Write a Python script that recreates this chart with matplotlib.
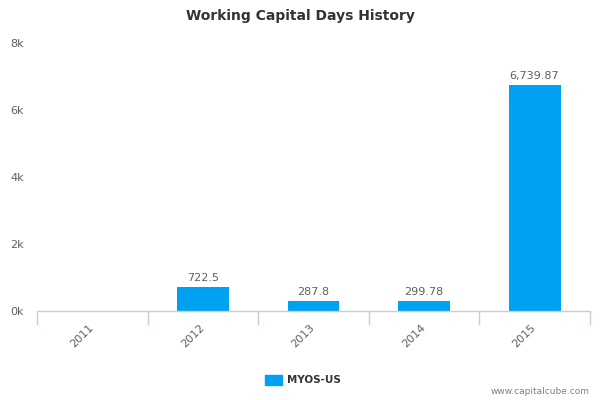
import matplotlib
matplotlib.use("Agg")
import matplotlib.pyplot as plt
import matplotlib.transforms as mtransforms
import numpy as np
from matplotlib.ticker import FuncFormatter, FixedLocator
from matplotlib.patches import Patch

years = ["2011", "2012", "2013", "2014", "2015"]
values = [np.nan, 722.5, 287.8, 299.78, 6739.87]
labels = ["", "722.5", "287.8", "299.78", "6,739.87"]
series_name = "MYOS-US"
yticks = [0, 2000, 4000, 6000, 8000]

bar_color = "#00a1f1"
axis_color = "#c0d0e0"
text_gray = "#606060"

fig = plt.figure(figsize=(6, 4), dpi=100)
ax = fig.add_axes([0.062, 0.2225, 0.921, 0.67])

x = np.arange(len(years))
vals = np.array(values, dtype=float)
bars = ax.bar(x, np.nan_to_num(vals), width=0.47, color=bar_color, zorder=2)
for xi, v, lab in zip(x, vals, labels):
    if not np.isnan(v) and lab:
        ax.annotate(lab, (xi, v), xytext=(0, 3), textcoords="offset points",
                    ha="center", va="bottom", fontsize=8, color=text_gray)

ax.set_xlim(-0.5, len(years) - 0.5)
ax.set_ylim(0, 8000)
ax.set_yticks(yticks)
ax.yaxis.set_major_formatter(FuncFormatter(lambda v, p: f"{int(v/1000)}k"))
ax.tick_params(axis="y", length=0, labelsize=8, labelcolor=text_gray, pad=19.5)
for t in ax.get_yticklabels():
    t.set_horizontalalignment("left")

ax.set_xticks(x)
ax.set_xticklabels(years, rotation=45, ha="right", rotation_mode="anchor",
                   fontsize=8, color=text_gray)
ax.tick_params(axis="x", length=0, pad=8)
offset = mtransforms.ScaledTranslation(-4 / 100, 0, fig.dpi_scale_trans)
for t in ax.get_xticklabels():
    t.set_transform(t.get_transform() + offset)
ax.xaxis.set_minor_locator(FixedLocator(np.arange(-0.5, len(years), 1.0)))
ax.tick_params(axis="x", which="minor", length=10, color=axis_color, width=1)

for s in ["top", "right", "left"]:
    ax.spines[s].set_visible(False)
ax.spines["bottom"].set_color(axis_color)
ax.spines["bottom"].set_linewidth(1)

fig.text(0.5, 0.96, "Working Capital Days History", ha="center", va="center",
         fontsize=10, fontweight="bold", color="#333333")

leg = fig.legend(handles=[Patch(color=bar_color, label=series_name)],
                 loc="center", bbox_to_anchor=(0.505, 0.05), frameon=False,
                 handlelength=1.6, handleheight=1.1, handletextpad=0.5,
                 prop={"size": 7.5, "weight": "bold"})
for t in leg.get_texts():
    t.set_color("#333333")

fig.text(0.983, 0.02, "www.capitalcube.com", ha="right", va="center",
         fontsize=6.5, color="#808080")

fig.savefig("out.png", dpi=100, facecolor="white")
